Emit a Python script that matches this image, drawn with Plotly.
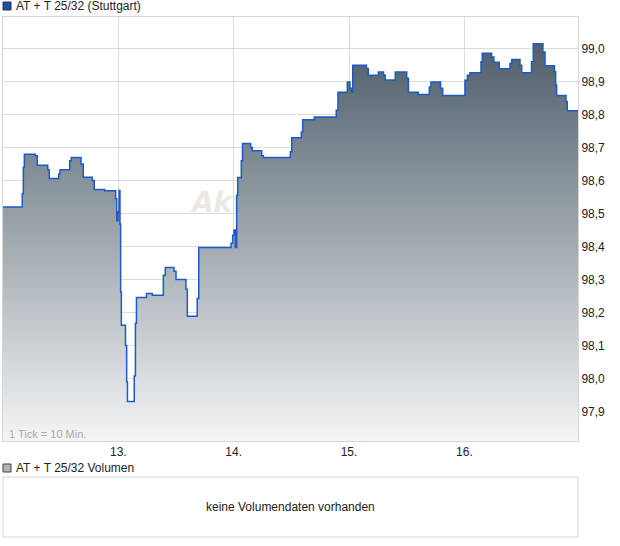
import plotly.graph_objects as go

# Step-line price data (x in trading days, 1 tick = 10 min)
days = [12.000, 12.167, 12.176, 12.185, 12.280, 12.297, 12.388, 12.401, 12.483, 12.494,
        12.578, 12.592, 12.676, 12.696, 12.774, 12.791, 12.882, 12.977, 12.986, 12.997,
        13.006, 13.014, 13.020, 13.026, 13.062, 13.072, 13.079, 13.138, 13.148, 13.157,
        13.244, 13.294, 13.390, 13.407, 13.482, 13.500, 13.586, 13.598, 13.684, 13.697,
        13.977, 13.991, 14.003, 14.014, 14.026, 14.035, 14.066, 14.076, 14.147, 14.161,
        14.243, 14.257, 14.491, 14.503, 14.586, 14.598, 14.699, 14.889, 14.904, 14.985,
        15.008, 15.023, 15.032, 15.151, 15.167, 15.254, 15.299, 15.314, 15.401, 15.500,
        15.515, 15.600, 15.696, 15.710, 15.793, 15.812, 16.005, 16.025, 16.048, 16.144,
        16.155, 16.236, 16.256, 16.302, 16.395, 16.410, 16.482, 16.497, 16.582, 16.597,
        16.681, 16.699, 16.781, 16.791, 16.800, 16.881, 16.892, 16.985]
prices = [98.52, 98.56, 98.64, 98.68, 98.675, 98.646, 98.633, 98.606, 98.62, 98.633,
          98.66, 98.67, 98.65, 98.61, 98.60, 98.573, 98.569, 98.545, 98.478, 98.505,
          98.57, 98.468, 98.262, 98.161, 98.10, 97.99, 97.93, 98.007, 98.167, 98.245,
          98.257, 98.252, 98.313, 98.336, 98.325, 98.30, 98.27, 98.188, 98.242, 98.397,
          98.41, 98.434, 98.45, 98.397, 98.555, 98.609, 98.66, 98.712, 98.70, 98.69,
          98.675, 98.67, 98.687, 98.73, 98.747, 98.784, 98.793, 98.813, 98.868, 98.899,
          98.88, 98.868, 98.95, 98.94, 98.919, 98.929, 98.92, 98.905, 98.929, 98.91,
          98.868, 98.861, 98.884, 98.899, 98.88, 98.858, 98.904, 98.919, 98.927, 98.96,
          98.986, 98.975, 98.959, 98.939, 98.955, 98.967, 98.95, 98.927, 98.96, 99.015,
          98.99, 98.948, 98.93, 98.89, 98.858, 98.84, 98.812, 98.812]

y_ticks = [97.9, 98.0, 98.1, 98.2, 98.3, 98.4, 98.5, 98.6, 98.7, 98.8, 98.9, 99.0]
y_tick_labels = ["97,9", "98,0", "98,1", "98,2", "98,3", "98,4", "98,5", "98,6",
                 "98,7", "98,8", "98,9", "99,0"]
x_ticks = [13, 14, 15, 16]
x_tick_labels = ["13.", "14.", "15.", "16."]

title_main = "AT + T 25/32 (Stuttgart)"
title_vol = "AT + T 25/32 Volumen"
no_vol_text = "keine Volumendaten vorhanden"
tick_note = "1 Tick = 10 Min."

W, H = 620, 546
FONT = "Liberation Sans, Arial, sans-serif"

def px_x(v):
    return v / W

def px_y(v):
    return 1 - v / H

fig = go.Figure()

# faint watermark, sits behind the filled area
fig.add_trace(go.Scatter(
    x=[13.638], y=[98.525], mode="text", text=["Aktiencheck"],
    textposition="middle right",
    textfont=dict(family="DejaVu Sans, sans-serif", size=28, color="#ece8e4",
                  style="italic", weight="bold"),
    hoverinfo="skip", showlegend=False))

fig.add_trace(go.Scatter(
    x=days, y=prices, mode="lines",
    line=dict(shape="hv", color="#1c5ac8", width=1.5),
    fill="tozeroy",
    fillgradient=dict(type="vertical",
                      colorscale=[[0, "#f4f5f6"], [1, "#4a5a66"]],
                      start=97.81, stop=99.05),
    showlegend=False, hoverinfo="skip"))

fig.update_layout(
    width=W, height=H,
    margin=dict(l=0, r=0, t=0, b=0),
    paper_bgcolor="white", plot_bgcolor="white",
    font=dict(family=FONT, size=12, color="#222222"),
    xaxis=dict(domain=[px_x(3), px_x(578)], range=[12.0, 16.985],
               tickvals=x_ticks, ticktext=x_tick_labels,
               showgrid=True, gridcolor="#dcdcdc", gridwidth=1,
               showline=True, mirror=True, linecolor="#d6d6d6", linewidth=1,
               ticks="", zeroline=False, tickfont=dict(size=12, color="#222222")),
    yaxis=dict(domain=[px_y(441), px_y(17)], range=[97.81, 99.096],
               side="right", tickvals=y_ticks, ticktext=y_tick_labels,
               showgrid=True, gridcolor="#dcdcdc", gridwidth=1,
               showline=True, mirror=True, linecolor="#d6d6d6", linewidth=1,
               ticks="", zeroline=False, tickfont=dict(size=12, color="#222222")),
)

shapes = [
    # legend square main
    dict(type="rect", xref="paper", yref="paper",
         x0=px_x(3), x1=px_x(11), y0=px_y(10), y1=px_y(2),
         fillcolor="#1a4fb0", line=dict(color="#333333", width=1)),
    # legend square volume
    dict(type="rect", xref="paper", yref="paper",
         x0=px_x(3), x1=px_x(11), y0=px_y(472), y1=px_y(464),
         fillcolor="#b4b4b4", line=dict(color="#444444", width=1)),
    # volume panel box
    dict(type="rect", xref="paper", yref="paper",
         x0=px_x(3), x1=px_x(578), y0=px_y(537), y1=px_y(477),
         fillcolor="white", line=dict(color="#d6d6d6", width=1)),
]
fig.update_layout(shapes=shapes)

annotations = [
    dict(text=title_main, xref="paper", yref="paper", x=px_x(14), y=px_y(6),
         xanchor="left", yanchor="middle", showarrow=False,
         font=dict(size=12, color="#222222")),
    dict(text=title_vol, xref="paper", yref="paper", x=px_x(14), y=px_y(468),
         xanchor="left", yanchor="middle", showarrow=False,
         font=dict(size=12, color="#222222")),
    dict(text=no_vol_text, xref="paper", yref="paper", x=px_x(290), y=px_y(507),
         xanchor="center", yanchor="middle", showarrow=False,
         font=dict(size=12, color="#222222")),
    dict(text=tick_note, xref="paper", yref="paper", x=px_x(7), y=px_y(434),
         xanchor="left", yanchor="middle", showarrow=False,
         font=dict(size=11, color="#aaaaaa")),
]
fig.update_layout(annotations=annotations)

fig.write_html("out.html",
               config={"displayModeBar": False, "staticPlot": True},
               post_script="document.body.style.margin='0';document.body.style.overflow='hidden';")
